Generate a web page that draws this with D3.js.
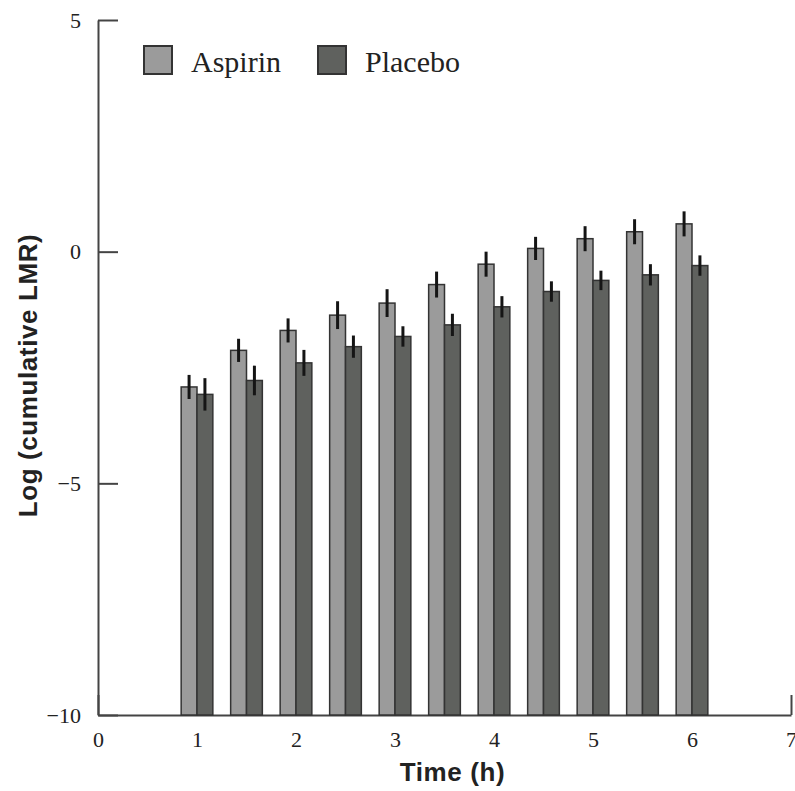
<!DOCTYPE html>
<html>
<head>
<meta charset="utf-8">
<script src="https://cdn.jsdelivr.net/npm/d3@7"></script>
<style>
  body { margin: 0; background: #fff; }
  svg { display: block; }
</style>
</head>
<body>
<svg class="chart" width="795" height="791"></svg>
<script>
// values
const times = [1, 1.5, 2, 2.5, 3, 3.5, 4, 4.5, 5, 5.5, 6];
const aspirin = [-2.92, -2.13, -1.70, -1.37, -1.11, -0.71, -0.27, 0.07, 0.28, 0.43, 0.60];
const aspirinErr = [0.26, 0.25, 0.26, 0.30, 0.30, 0.28, 0.27, 0.25, 0.27, 0.27, 0.27];
const placebo = [-3.08, -2.78, -2.40, -2.05, -1.83, -1.58, -1.19, -0.86, -0.62, -0.50, -0.30];
const placeboErr = [0.35, 0.32, 0.28, 0.24, 0.22, 0.24, 0.23, 0.22, 0.21, 0.23, 0.22];
const seriesNames = [`Aspirin`, `Placebo`];
const xTicks = [0, 1, 2, 3, 4, 5, 6, 7];
const yTicks = [-10, -5, 0, 5];

const colors = [`#9b9b9b`, `#5f615e`];
const barW = 0.16; // in time units

const svg = d3.select(`.chart`);

const x = d3.scaleLinear().domain([0, 7]).range([98, 791]);
const y = d3.scaleLinear().domain([-10, 5]).range([715, 20]);

const series = [
  {name: seriesNames[0], vals: aspirin, errs: aspirinErr, off: -barW},
  {name: seriesNames[1], vals: placebo, errs: placeboErr, off: 0}
];

// axes
const styleAxis = g => {
  g.select(`.domain`).attr(`stroke`, `#444`).attr(`stroke-width`, 2);
  g.selectAll(`.tick line`).attr(`stroke`, `#444`).attr(`stroke-width`, 2);
  g.selectAll(`.tick text`)
    .attr(`fill`, `#222`)
    .attr(`font-family`, `"Liberation Serif", "Times New Roman", serif`)
    .attr(`font-size`, `22px`);
};

svg.append(`g`)
  .attr(`transform`, `translate(${x(0)},0)`)
  .call(d3.axisLeft(y).tickValues(yTicks).tickFormat(d3.format(`d`))
    .tickSizeInner(-20).tickSizeOuter(0).tickPadding(17))
  .call(styleAxis);

svg.append(`g`)
  .attr(`transform`, `translate(0,${y(-10)})`)
  .call(d3.axisBottom(x).tickValues(xTicks).tickFormat(d3.format(`d`))
    .tickSizeInner(-20).tickSizeOuter(0).tickPadding(16))
  .call(styleAxis);

// bars
series.forEach((s, si) => {
  const g = svg.append(`g`).attr(`class`, `series-${si}`);

  g.selectAll(`rect`)
    .data(times)
    .enter().append(`rect`)
    .attr(`x`, (t) => x(t + s.off))
    .attr(`width`, x(barW) - x(0))
    .attr(`y`, (t, i) => y(s.vals[i]))
    .attr(`height`, (t, i) => y(-10) - y(s.vals[i]))
    .attr(`fill`, colors[si])
    .attr(`stroke`, `#333`)
    .attr(`stroke-width`, 1.5);

  g.selectAll(`line`)
    .data(times)
    .enter().append(`line`)
    .attr(`x1`, (t) => x(t + s.off + barW / 2))
    .attr(`x2`, (t) => x(t + s.off + barW / 2))
    .attr(`y1`, (t, i) => y(s.vals[i] + s.errs[i]))
    .attr(`y2`, (t, i) => y(s.vals[i] - s.errs[i]))
    .attr(`stroke`, `#151515`)
    .attr(`stroke-width`, 3);
});

// legend
const legend = svg.append(`g`).attr(`transform`, `translate(144,46)`);
const legendX = [0, 174];
seriesNames.forEach((name, i) => {
  const item = legend.append(`g`).attr(`transform`, `translate(${legendX[i]},0)`);
  item.append(`rect`)
    .attr(`width`, 28)
    .attr(`height`, 28)
    .attr(`fill`, colors[i])
    .attr(`stroke`, `#333`)
    .attr(`stroke-width`, 2);
  item.append(`text`)
    .attr(`x`, 47)
    .attr(`y`, 26)
    .attr(`font-family`, `"Liberation Serif", "Times New Roman", serif`)
    .attr(`font-size`, `30px`)
    .attr(`fill`, `#222`)
    .text(name);
});

// axis titles
svg.append(`text`)
  .attr(`x`, (x(0) + x(7)) / 2 + 8)
  .attr(`y`, 781)
  .attr(`text-anchor`, `middle`)
  .attr(`font-family`, `"Liberation Sans", Arial, sans-serif`)
  .attr(`font-weight`, `bold`)
  .attr(`font-size`, `26px`)
  .attr(`letter-spacing`, `0.6px`)
  .attr(`fill`, `#222`)
  .text(`Time (h)`);

svg.append(`text`)
  .attr(`transform`, `translate(37,${(y(5) + y(-10)) / 2 + 8}) rotate(-90)`)
  .attr(`text-anchor`, `middle`)
  .attr(`font-family`, `"Liberation Sans", Arial, sans-serif`)
  .attr(`font-weight`, `bold`)
  .attr(`font-size`, `26px`)
  .attr(`letter-spacing`, `0.6px`)
  .attr(`fill`, `#222`)
  .text(`Log (cumulative LMR)`);
</script>
</body>
</html>
